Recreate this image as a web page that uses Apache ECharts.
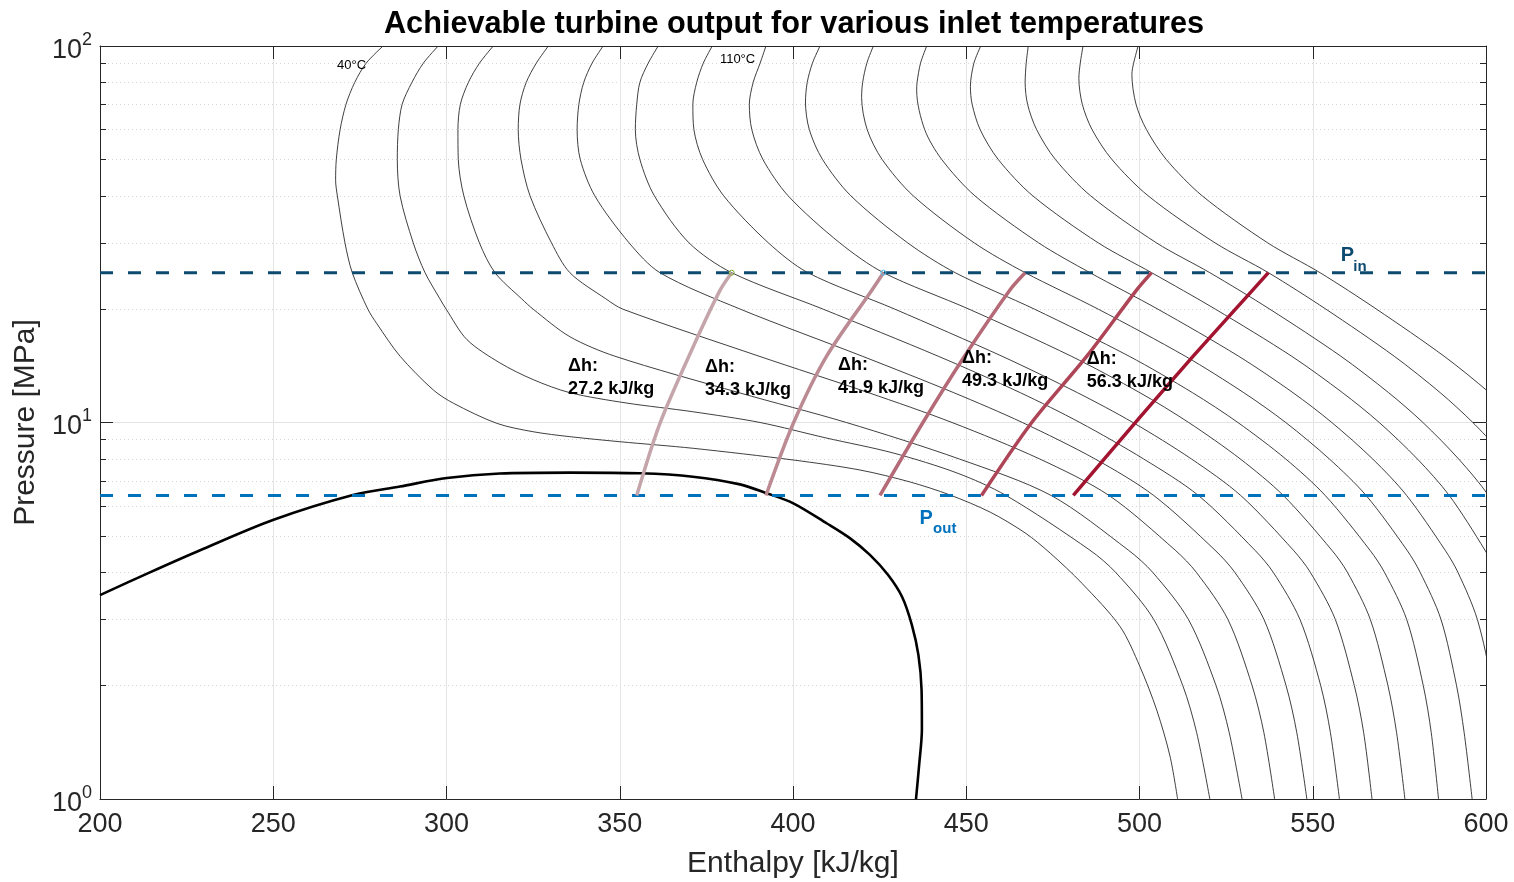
<!DOCTYPE html>
<html><head><meta charset="utf-8">
<script src="https://cdn.jsdelivr.net/npm/echarts@6/dist/echarts.min.js"></script>
<style>html,body{margin:0;padding:0;background:#fff}#c{width:1514px;height:882px}</style>
</head><body><div id="c"></div>
<script>
// ---- isotherms: [enthalpy kJ/kg, pressure MPa] ----
const isoTemps = [40,50,60,70,80,90,100,110,120,130,140,150,160,170,180];
const iso40 = [[281.7,100],[276.8,90],[273.5,80],[271.0,70],[269.3,60],[268.2,50],[268.0,44],[268.5,40],[270.7,30],[272.8,25],[277.3,20],[279.9,18.3],[286.6,15],[296.2,12.2],[302.0,11.25],[314.5,9.95],[325.0,9.45],[335.6,9.17],[350.1,8.89],[371.2,8.54],[400.1,7.95],[419.3,7.48],[433.8,6.95],[445.3,6.42],[456.9,5.78],[467.0,5.09],[474.2,4.50],[483.4,3.74],[494.4,2.87],[500.1,2.25],[505.0,1.72],[508.8,1.30],[511.0,1.0]];
const iso50 = [[297.6,100],[293.3,90],[290.0,80],[287.2,70],[286.1,60],[285.8,50],[286.6,40],[290.4,30],[293.8,25],[298.1,21.3],[299.9,20],[305.9,16.6],[315.4,14.4],[325.0,13.0],[335.6,12.0],[351.8,11.27],[371.1,10.68],[390.5,10.0],[409.5,9.1],[428.9,8.3],[447.4,7.34],[461.5,6.4],[485.7,4.58],[493.1,4],[504.1,3],[512.5,2],[516.5,1.5],[520.3,1]];
const iso60 = [[313.5,100],[309.5,90],[306.3,80],[304.0,70],[303.3,60],[303.4,50],[305.0,40],[309.5,30],[314.0,25],[321.7,21.3],[325.0,20],[335.6,16.9],[348.6,15],[384.4,12],[415.4,10],[448.0,8],[474.5,6.4],[496.8,4.58],[503.8,4],[514.1,3],[522.1,2],[525.9,1.5],[529.6,1]];
const iso70 = [[329.4,100],[325.9,90],[323.0,80],[321.2,70],[320.7,60],[321.5,50],[324.1,40],[330.3,30],[335.6,25],[346.0,21.3],[350.9,20],[390.2,15],[421.8,12],[445.9,10],[471.2,8],[491.2,6.4],[510.3,4.58],[516.4,4],[525.5,3],[532.5,2],[535.9,1.5],[539.0,1]];
const iso80 = [[345.2,100],[342.0,90],[339.6,80],[338.2,70],[337.7,60],[338.6,50],[342.8,40],[352.7,30],[361.6,25],[384.8,20],[420.0,15],[446.4,12],[466.2,10],[487.2,8],[504.1,6.4],[521.8,4.58],[527.5,4],[535.9,3],[542.3,2],[545.4,1.5],[548.3,1]];
const iso90 = [[361.1,100],[358.2,90],[355.8,80],[354.9,70],[354.5,60],[355.8,50],[360.0,40],[370.0,30],[382.3,25],[408.7,20],[441.9,15],[465.6,12],[482.8,10],[501.2,8],[517.0,6.4],[533.3,4.58],[538.6,4],[546.3,3],[552.3,2],[555.1,1.5],[557.7,1]];
const iso100 = [[376.7,100],[374.1,90],[372.2,80],[371.1,70],[371.4,60],[373.9,50],[380.0,40],[392.9,30],[404.3,25],[429.4,20],[460.3,15],[482.1,12],[498.1,10],[515.0,8],[529.2,6.4],[544.4,4.58],[549.3,4],[556.5,3],[562.0,2],[564.7,1.5],[567.1,1]];
const iso110 = [[392.2,100],[390.5,90],[388.5,80],[387.4,70],[388.1,60],[391.3,50],[398.6,40],[413.5,30],[426.1,25],[450.8,20],[480.3,15],[500.1,12],[514.2,10],[529.1,8],[541.5,6.4],[555.5,4.58],[560.0,4],[566.6,3],[571.7,2],[574.2,1.5],[576.6,1]];
const iso120 = [[407.8,100],[405.6,90],[404.1,80],[403.6,71],[404.7,60],[408.5,50],[416.7,40],[433.1,30],[446.8,25],[469.7,20],[497.0,15],[515.3,12],[528.4,10],[542.2,8],[553.6,6.4],[566.5,4.58],[570.7,4],[577.1,3],[581.9,2],[584.2,1.5],[586.3,1]];
const iso130 = [[423.2,100],[421.3,90],[420.1,80],[419.8,73],[421.4,60],[425.7,50],[434.7,40],[452.3,30],[467.0,25],[488.1,20],[513.2,15],[530.1,12],[542.2,10],[554.8,8],[565.4,6.4],[577.2,4.58],[581.0,4],[587.0,3],[591.5,2],[593.7,1.5],[596.0,1]];
const iso140 = [[438.6,100],[436.8,90],[435.8,80],[435.7,76],[438.0,60],[442.9,50],[452.5,40],[470.9,30],[485.7,25],[505.3,20],[528.6,15],[544.3,12],[555.5,10],[567.3,8],[577.1,6.4],[588.2,4.58],[591.9,4],[597.5,3],[601.7,2],[606.0,1]];
const iso150 = [[454.2,100],[452.2,90],[451.2,78],[451.7,70],[454.0,60],[459.2,50],[469.2,40],[488.1,30],[503.5,25],[521.9,20],[543.9,15],[558.6,12],[569.2,10],[580.2,8],[589.4,6.4],[599.7,4.58],[603.0,4]];
const iso160 = [[467.9,100],[467.3,90],[467.0,80],[467.7,70],[470.3,60],[475.7,50],[485.9,40],[504.9,30],[520.3,25],[537.6,20],[558.1,15],[571.9,12],[581.8,10],[592.1,8],[600.7,6.4],[610.0,4.58]];
const iso170 = [[483.7,100],[482.9,90],[482.5,82],[483.5,70],[486.3,60],[492.0,50],[502.5,40],[521.8,30],[537.2,25],[553.8,20],[573.5,15],[586.8,12],[596.2,10],[606.2,8]];
const iso180 = [[499.6,100],[498.3,90],[497.8,84],[499.0,70],[502.0,60],[507.7,50],[518.1,40],[537.0,30],[552.1,25],[568.4,20],[587.9,15],[601.0,12],[610.3,10]];
const isotherms = [iso40,iso50,iso60,iso70,iso80,iso90,iso100,iso110,iso120,iso130,iso140,iso150,iso160,iso170,iso180];

// ---- saturation dome ----
const dome = [[200,3.48],[214.4,4.00],[228.9,4.58],[249.9,5.51],[273.0,6.42],[286.6,6.76],[300.1,7.12],[315.4,7.32],[335.6,7.36],[355.8,7.33],[371.1,7.18],[384.7,6.85],[392.4,6.49],[400.1,6.10],[409.7,5.40],[416.4,4.93],[422.2,4.45],[427.4,3.94],[431.5,3.44],[434.3,2.90],[436.2,2.41],[437.1,1.95],[437.2,1.53],[436.4,1.23],[435.5,1.0]];

// ---- pressures ----
const pIn = 25;
const pOut = 6.4;

// ---- expansion lines ----
const exp1 = [[382.3,25],[379.0,22.5],[371.2,15.9],[361.6,9.95],[354.9,6.4]];
const exp2 = [[426.1,25],[422.8,22.5],[409.7,15.0],[400.1,9.95],[392.2,6.4]];
const exp3 = [[467.0,25],[462.6,22.5],[449.5,15],[437.5,10],[425.1,6.4]];
const exp4 = [[503.5,25],[499.2,22.5],[484.8,15],[468.9,10],[454.4,6.4]];
const exp5 = [[537.2,25],[527.7,20],[515.5,15],[500.4,10.4],[480.9,6.4]];
const expansions = [exp1,exp2,exp3,exp4,exp5];
const dhValues = ['27.2','34.3','41.9','49.3','56.3'];

// ---- label anchors (data coordinates) ----
const dhAnchors = [[335.1,13.17],[374.6,13.05],[413.0,13.21],[448.8,13.83],[484.8,13.7]];
const tempLabelAnchors = [[268.4,89.0],[378.9,92.4]];
const tempLabelTexts = ['40°C','110°C'];

const FONT = 'Liberation Sans, Arial, Helvetica, sans-serif';
const expColors = ['#c4a5ab','#bb8a93','#b46a77','#ae4557','#a2142f'];
const topMarkColors = ['#77ac30','#4dbeee'];
const AX = '#262626';

const series = [];
isotherms.forEach((d,i)=>{
  series.push({type:'line', name:isoTemps[i]+'°C', data:d, showSymbol:false, smooth:0.3, silent:true,
    lineStyle:{color:'#2a2a2a', width:0.9}, z:2});
});
series.push({type:'line', name:'dome', data:dome, showSymbol:false, smooth:0.3, lineStyle:{color:'#000', width:2.6}, z:3});
series.push({type:'line', name:'Pin', data:[[200,pIn],[600,pIn]], showSymbol:false, lineStyle:{color:'#0d4a70', width:3, type:[13,15]}, z:4});
series.push({type:'line', name:'Pout', data:[[200,pOut],[600,pOut]], showSymbol:false, lineStyle:{color:'#0072bd', width:3, type:[13,15]}, z:4});
expansions.forEach((d,i)=>{
  series.push({type:'line', name:'exp'+i, data:d, showSymbol:false, smooth:0.3, lineStyle:{color:expColors[i], width:3.5}, z:5});
});
series.push({type:'scatter', name:'tops', z:6, symbol:'circle', symbolSize:5,
  itemStyle:{opacity:1},
  data: topMarkColors.map((c,i)=>({value:expansions[i][0], itemStyle:{color:'rgba(0,0,0,0)', borderColor:c, borderWidth:1}}))});
series.push({type:'scatter', name:'dh', symbolSize:0, z:6, itemStyle:{opacity:1},
  data: dhAnchors.map((a,i)=>({value:a, label:{formatter:'{d|Δh:}\n{d|'+dhValues[i]+' kJ/kg}'}})),
  label:{show:true, position:[0,0], align:'left', verticalAlign:'middle', opacity:1,
    rich:{d:{fontFamily:FONT, fontSize:18, fontWeight:'bold', color:'#000', lineHeight:23}}}});
series.push({type:'scatter', name:'tl', symbolSize:0, z:6, itemStyle:{opacity:1},
  data: tempLabelAnchors.map((a,i)=>({value:a, label:{formatter:tempLabelTexts[i]}})),
  label:{show:true, position:[0,0], align:'left', verticalAlign:'middle', opacity:1, fontFamily:FONT, fontSize:13, color:'#000'}});
series.push({type:'scatter', name:'plabels', symbolSize:0, z:6, itemStyle:{opacity:1},
  data:[
    {value:[560.0,27.8], label:{formatter:'P', color:'#0d4a70', fontSize:20}},
    {value:[563.6,25.9], label:{formatter:'in', color:'#0d4a70', fontSize:15}},
    {value:[438.4,5.57], label:{formatter:'P', color:'#0072bd', fontSize:20}},
    {value:[443.8,5.21], label:{formatter:'out', color:'#0072bd', fontSize:15}}
  ],
  label:{show:true, position:[0,0], align:'center', verticalAlign:'middle', opacity:1, fontFamily:FONT, fontWeight:'bold'}});

const option = {
  animation:false,
  backgroundColor:'#fff',
  title:{text:'Achievable turbine output for various inlet temperatures', left:789, top:4, textAlign:'center',
    textStyle:{fontFamily:FONT, fontSize:30.7, fontWeight:'bold', color:'#000'}},
  grid:{left:100, right:28, top:46, bottom:83, outerBoundsMode:'none'},
  xAxis:[
    {type:'value', min:200, max:600, interval:50, position:'bottom',
     name:'Enthalpy [kJ/kg]', nameLocation:'middle', nameGap:50,
     nameTextStyle:{fontFamily:FONT, fontSize:30, color:AX},
     axisLine:{show:true, onZero:false, lineStyle:{color:AX, width:1}},
     axisTick:{show:true, inside:true, length:13, lineStyle:{color:AX}},
     axisLabel:{fontFamily:FONT, fontSize:27, color:AX, margin:12},
     splitLine:{show:true, lineStyle:{color:'#e4e4e4', width:1}}},
    {type:'value', min:200, max:600, interval:50, position:'top',
     axisLine:{show:true, onZero:false, lineStyle:{color:AX, width:1}},
     axisTick:{show:true, inside:true, length:13, lineStyle:{color:AX}},
     axisLabel:{show:false}, splitLine:{show:false}}
  ],
  yAxis:[
    {type:'log', logBase:10, min:1, max:100, position:'left',
     name:'Pressure [MPa]', nameLocation:'middle', nameGap:58,
     nameTextStyle:{fontFamily:FONT, fontSize:30, color:AX},
     axisLine:{show:true, onZero:false, lineStyle:{color:AX, width:1}},
     axisTick:{show:true, inside:true, length:13, lineStyle:{color:AX}},
     minorTick:{show:true, splitNumber:9, length:6, lineStyle:{color:AX}},
     minorSplitLine:{show:true, lineStyle:{color:'#d6d6d6', type:[1,3], width:1}},
     splitLine:{show:true, lineStyle:{color:'#e4e4e4', width:1}},
     axisLabel:{margin:8, color:AX,
       formatter:(v)=>'{b|10}{s|'+Math.round(Math.log10(v))+'}',
       rich:{b:{fontFamily:FONT, fontSize:27, color:AX, lineHeight:36, verticalAlign:'bottom'},
             s:{fontFamily:FONT, fontSize:18, color:AX, lineHeight:36, verticalAlign:'top', padding:[3,0,0,0]}}}},
    {type:'log', logBase:10, min:1, max:100, position:'right',
     axisLine:{show:true, onZero:false, lineStyle:{color:AX, width:1}},
     axisTick:{show:true, inside:true, length:13, lineStyle:{color:AX}},
     minorTick:{show:true, splitNumber:9, length:6, lineStyle:{color:AX}},
     axisLabel:{show:false}, splitLine:{show:false}}
  ],
  series: series
};
const chart = echarts.init(document.getElementById('c'), null, {renderer:'canvas'});
chart.setOption(option);
</script></body></html>
